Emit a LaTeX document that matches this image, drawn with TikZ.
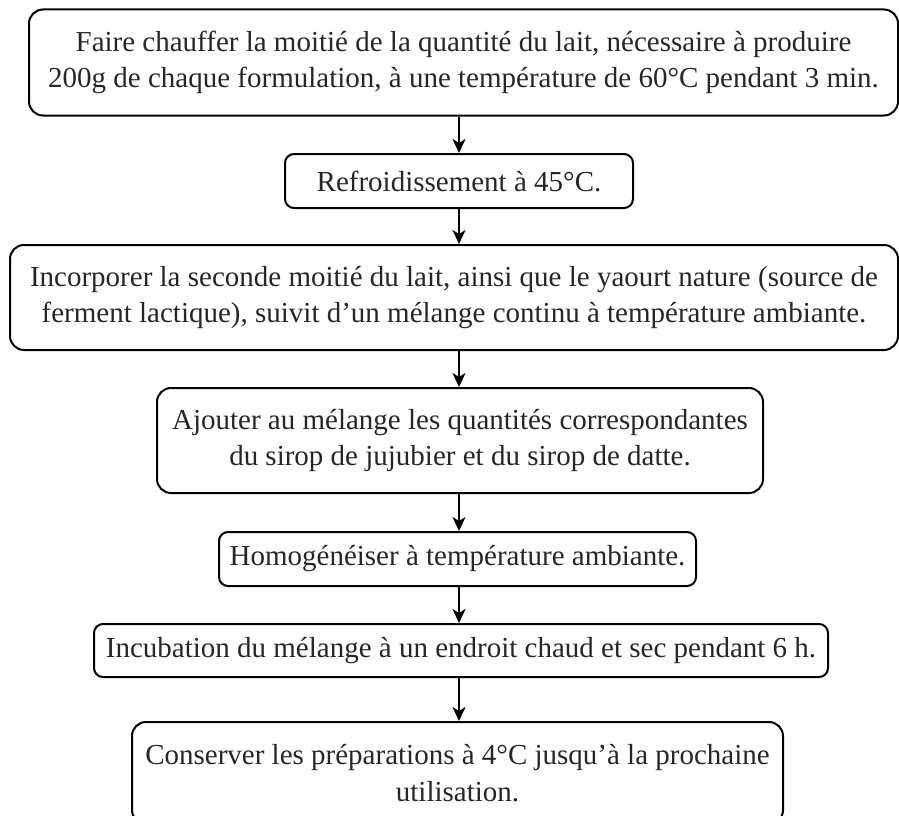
\documentclass[tikz,border=0pt]{standalone}
\usepackage{fontspec}
\setmainfont{Liberation Serif}
\usetikzlibrary{arrows.meta}
\begin{document}
\begin{tikzpicture}[x=1pt,y=-1pt,
  stepbox/.style={draw=black, line width=2pt, rounded corners=14pt, align=center,
    inner sep=0pt, font=\fontsize{29}{36.7}\selectfont, text=black!85},
  smallbox/.style={stepbox, rounded corners=9pt},
  flow/.style={-{Stealth[length=14pt,width=13pt,inset=4pt]}, line width=2pt, draw=black}]
\useasboundingbox (0,0) rectangle (899,816);
\node[stepbox, minimum width=869pt, minimum height=106pt] (b1) at (463.5,62.5)
  {Faire chauffer la moitié de la quantité du lait, nécessaire à produire\\200g de chaque formulation, à une température de 60°C pendant 3 min.};
\node[smallbox, minimum width=348pt, minimum height=54pt] (b2) at (459,181)
  {Refroidissement à 45°C.};
\node[stepbox, minimum width=888pt, minimum height=105pt] (b3) at (454,297.5)
  {Incorporer la seconde moitié du lait, ainsi que le yaourt nature (source de\\ferment lactique), suivit d’un mélange continu à température ambiante.};
\node[stepbox, minimum width=606pt, minimum height=105pt] (b4) at (460,440.5)
  {Ajouter au mélange les quantités correspondantes\\du sirop de jujubier et du sirop de datte.};
\node[smallbox, minimum width=477pt, minimum height=54pt] (b5) at (457.5,559)
  {Homogénéiser à température ambiante.};
\node[smallbox, minimum width=734pt, minimum height=53pt] (b6) at (461,650.5)
  {Incubation du mélange à un endroit chaud et sec pendant 6 h.};
\node[stepbox, minimum width=651pt, minimum height=102pt] (b7) at (457.5,773)
  {Conserver les préparations à 4°C jusqu’à la prochaine\\utilisation.};
\coordinate (ax) at (459,0);
\draw[flow] (b1.south -| ax) -- (b2.north -| ax);
\draw[flow] (b2.south -| ax) -- (b3.north -| ax);
\draw[flow] (b3.south -| ax) -- (b4.north -| ax);
\draw[flow] (b4.south -| ax) -- (b5.north -| ax);
\draw[flow] (b5.south -| ax) -- (b6.north -| ax);
\draw[flow] (b6.south -| ax) -- (b7.north -| ax);
\end{tikzpicture}
\end{document}
